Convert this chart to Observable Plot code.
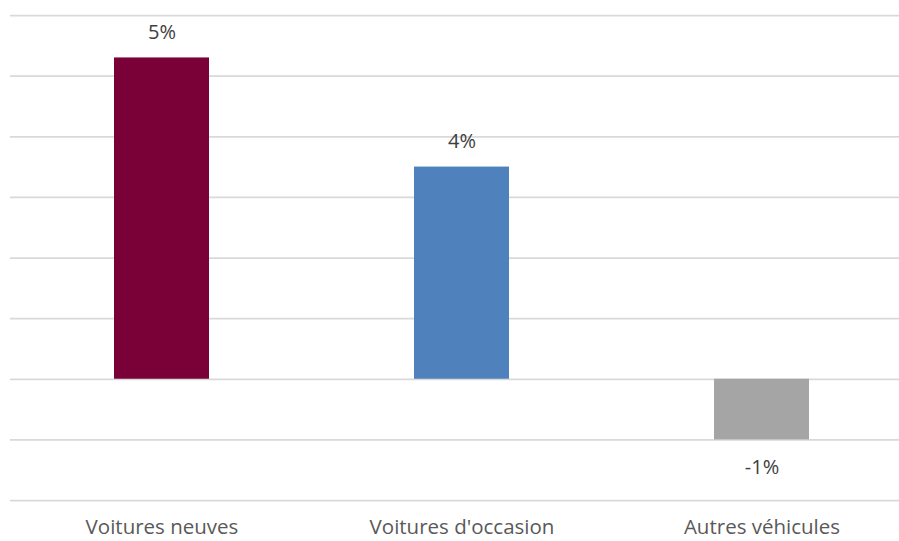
<!DOCTYPE html>
<html>
<head>
<meta charset="utf-8">
<script src="https://cdn.jsdelivr.net/npm/d3@7"></script>
<script src="https://cdn.jsdelivr.net/npm/@observablehq/plot@0.6"></script>
<style>
  html, body { margin: 0; padding: 0; background: #ffffff; }
  #chart svg { display: block; }
</style>
</head>
<body>
<div id="chart"></div>
<script>
// Variation by vehicle type
const categories = ["Voitures neuves", "Voitures d'occasion", "Autres véhicules"];
const values = [0.053, 0.035, -0.010];
const colors = ["#7a0038", "#4f81bd", "#a5a5a5"];
const gridTicks = [-0.02, -0.01, 0, 0.01, 0.02, 0.03, 0.04, 0.05, 0.06];

const data = categories.map((c, i) => ({category: c, value: values[i], color: colors[i]}));
// Percent labels with an ASCII hyphen for negatives
const pct = d3.formatLocale({decimal: ".", thousands: " ", grouping: [3], currency: ["", "€"], minus: "-"}).format(".0%");

const xOptions = {
  domain: categories,
  range: [10.25, 911.75],
  paddingInner: 0.684,
  paddingOuter: 0.342
};
const half = Plot.scale({x: xOptions}).bandwidth / 2;
const font = 20;

const chart = Plot.plot({
  width: 899,
  height: 541,
  marginTop: 15,
  marginBottom: 41,
  marginLeft: 10,
  marginRight: 0,
  style: {fontFamily: "'Open Sans', sans-serif", color: "#595959", background: "#ffffff"},
  x: {...xOptions, label: null},
  y: {domain: [-0.02, 0.06], axis: null},
  marks: [
    Plot.ruleY(gridTicks, {stroke: "#d9d9d9", strokeWidth: 1.75}),
    Plot.barY(data, {x: "category", y: "value", fill: "color"}),
    Plot.text(data.filter(d => d.value >= 0), {
      x: "category", y: "value", text: d => pct(d.value),
      dx: half, dy: -25, fontSize: font, fill: "#404040"
    }),
    Plot.text(data.filter(d => d.value < 0), {
      x: "category", y: "value", text: d => pct(d.value),
      dx: half, dy: 28, fontSize: font, fill: "#404040"
    }),
    Plot.axisX({tickSize: 0, tickPadding: 19, fontSize: 20.5, label: null, fill: "#595959"})
  ]
});

document.getElementById("chart").appendChild(chart);
</script>
</body>
</html>
